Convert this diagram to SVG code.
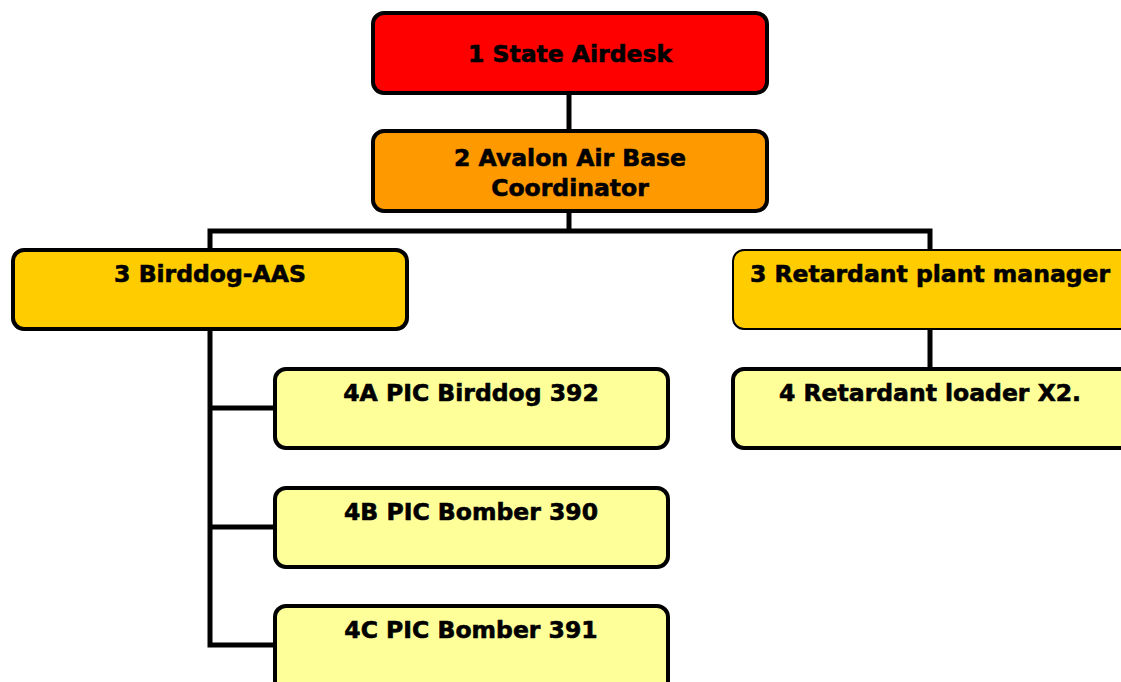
<svg xmlns="http://www.w3.org/2000/svg" width="1121" height="682" viewBox="0 0 1121 682">
<style>
.box{stroke:#000;stroke-width:4}
.thin{stroke:#000;stroke-width:2}
.red{fill:#FF0000}.orange{fill:#FF9900}.gold{fill:#FFCC00}.pale{fill:#FFFF99}
text{font-family:"DejaVu Sans",Verdana,sans-serif;font-weight:bold;font-size:23.5px;fill:#000;stroke:#000;stroke-width:0.6;text-anchor:middle}
.conn{fill:none;stroke:#000;stroke-width:5}
</style>
<rect width="1121" height="682" fill="#fff"/>
<g id="connectors">
<path class="conn" d="M569 93V131"/>
<path class="conn" d="M569 211V231"/>
<path class="conn" d="M210 250V231H930V250"/>
<path class="conn" d="M930 329V369"/>
<path class="conn" d="M210 329V645H275M210 408H275M210 527H275"/>
</g>
<g id="n1"><rect class="box red" x="373" y="13" width="394" height="80" rx="11"/><text x="570" y="62">1 State Airdesk</text></g>
<g id="n2"><rect class="box orange" x="373" y="131" width="394" height="80" rx="11"/><text x="570" y="166">2 Avalon Air Base</text><text x="570" y="196">Coordinator</text></g>
<g id="n3a"><rect class="box gold" x="13" y="250" width="394" height="79" rx="11"/><text x="210" y="282">3 Birddog-AAS</text></g>
<g id="n3b"><rect class="thin gold" x="733" y="250" width="400" height="79" rx="11"/><text x="930" y="282">3 Retardant plant manager</text></g>
<g id="n4a"><rect class="box pale" x="275" y="369" width="393" height="79" rx="11"/><text x="471" y="401">4A PIC Birddog 392</text></g>
<g id="n4b"><rect class="box pale" x="275" y="488" width="393" height="79" rx="11"/><text x="471" y="520">4B PIC Bomber 390</text></g>
<g id="n4c"><rect class="box pale" x="275" y="606" width="393" height="90" rx="11"/><text x="471" y="638">4C PIC Bomber 391</text></g>
<g id="n4d"><rect class="box pale" x="733" y="369" width="400" height="79" rx="11"/><text x="930" y="401">4 Retardant loader X2.</text></g>
</svg>
